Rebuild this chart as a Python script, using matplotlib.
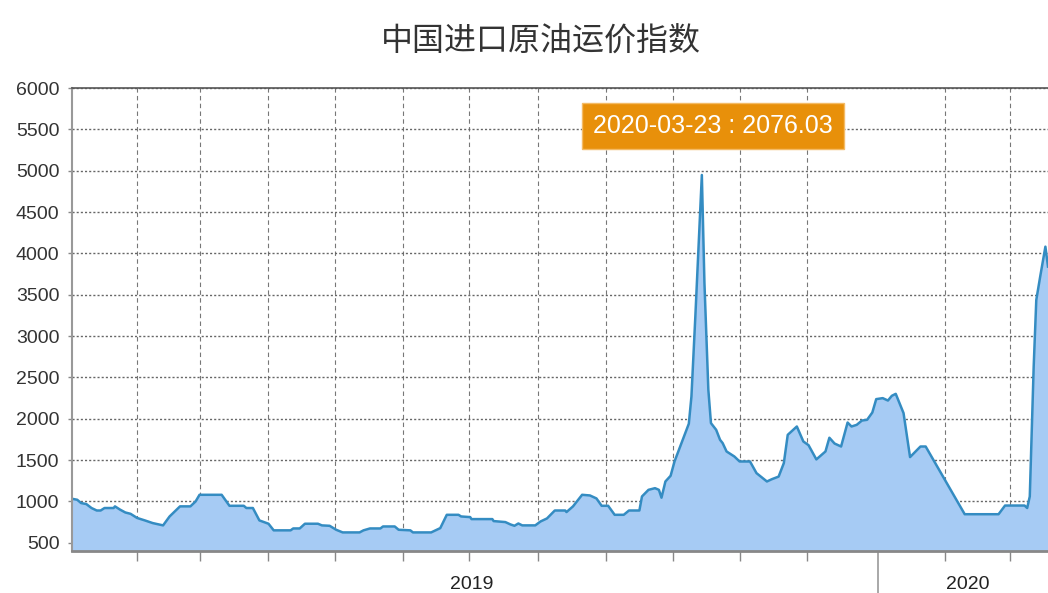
import matplotlib
matplotlib.use('Agg')
import matplotlib.pyplot as plt
from matplotlib.ticker import FixedLocator, NullFormatter

# days counted from the left edge of the chart, index values
days = [0, 4, 7, 11, 15, 19, 22, 25, 32, 33,
        37, 41, 45, 50, 56, 62, 70, 75, 83, 91,
        95, 98, 115, 121, 132, 134, 139, 144, 151, 155,
        168, 170, 175, 179, 189, 192, 198, 203, 208, 221,
        224, 229, 237, 239, 248, 251, 260, 262, 276, 283,
        288, 297, 299, 306, 307, 323, 324, 333, 337, 340,
        343, 346, 356, 360, 365, 371, 379, 380, 385, 392,
        398, 403, 407, 412, 417, 424, 428, 436, 438, 443,
        448, 451, 453, 456, 460, 463, 474, 476, 479, 484,
        486, 489, 491, 495, 498, 500, 503, 509, 513, 521,
        526, 534, 538, 543, 547, 550, 557, 562, 566, 572,
        579, 582, 586, 591, 596, 599, 603, 607, 611, 615,
        618, 623, 627, 630, 633, 639, 644, 652, 656, 686,
        712, 717, 732, 734, 736, 739, 741, 744, 748, 750]
index_values = [1032, 1020, 980, 968, 920, 890, 890, 920, 920, 940,
                900, 866, 850, 800, 770, 738, 710, 818, 940, 940,
                1000, 1080, 1080, 947, 947, 920, 920, 770, 730, 650,
                650, 673, 673, 730, 730, 710, 705, 657, 625, 625,
                650, 673, 673, 697, 697, 657, 650, 625, 625, 677,
                838, 838, 818, 810, 786, 786, 762, 750, 721, 705,
                733, 710, 710, 757, 794, 890, 890, 871, 940, 1080,
                1072, 1036, 947, 947, 838, 838, 890, 890, 1060, 1140,
                1160, 1140, 1045, 1241, 1310, 1483, 1940, 2269, 3236, 4948,
                3639, 2350, 1947, 1866, 1745, 1705, 1604, 1543, 1483, 1483,
                1342, 1241, 1270, 1300, 1463, 1805, 1906, 1725, 1680, 1508,
                1604, 1770, 1700, 1664, 1954, 1906, 1926, 1978, 1987, 2075,
                2237, 2249, 2220, 2277, 2301, 2068, 1536, 1664, 1664, 845,
                845, 950, 950, 920, 1060, 2631, 3437, 3719, 4081, 3840]

grid_days = [50, 98, 151, 202, 254, 305, 358, 410, 462, 513, 565, 619, 671, 721]
year_days = [307, 619, 688]
year_labels = ['2019', '', '2020']
y_ticks = list(range(500, 6001, 500))

title = '中国进口原油运价指数'
tooltip = '2020-03-23 : 2076.03'

narrow = ['Liberation Sans', 'DejaVu Sans']

fig = plt.figure(figsize=(10.48, 5.93), dpi=100)
ax = fig.add_axes([0.0687, 0.0708, 0.9313, 0.7808])

ax.fill_between(days, index_values, 400, color='#a6cbf4', lw=0)
ax.plot(days, index_values, color='#348cc2', lw=1.8)

ax.set_xlim(0, 750)
ax.set_ylim(400, 6000)

# grid
ax.set_yticks(y_ticks)
ax.xaxis.set_minor_locator(FixedLocator(grid_days))
ax.xaxis.set_minor_formatter(NullFormatter())
ax.xaxis.set_major_locator(FixedLocator(year_days))
ax.set_xticklabels(year_labels)
ax.grid(which='major', axis='y', ls=(0, (1.5, 1.5)), color='#666666', lw=1)
ax.grid(which='minor', axis='x', ls=(0, (4, 3)), color='#777777', lw=0.8)
ax.set_axisbelow(True)

ax.spines['right'].set_visible(False)
ax.spines['top'].set_linestyle((0, (2, 1)))
ax.spines['top'].set_color('#555555')
ax.spines['top'].set_linewidth(1.2)
ax.spines['left'].set_color('#999999')
ax.spines['left'].set_linewidth(1.5)
ax.spines['bottom'].set_color('#888888')
ax.spines['bottom'].set_linewidth(2)

ax.tick_params(axis='y', length=3, width=1, color='#888888', pad=6,
               labelsize=14, labelcolor='#333333')
ax.tick_params(axis='x', which='minor', length=7, width=1, color='#888888')
ax.tick_params(axis='x', which='major', length=0, pad=18,
               labelsize=14, labelcolor='#222222')
for lab in ax.get_yticklabels() + ax.get_xticklabels():
    lab.set_family(narrow)

# long tick at the year boundary
ticks = ax.xaxis.get_major_ticks()
ticks[1].tick1line.set_markersize(32)
ticks[1].tick1line.set_markeredgecolor('#999999')
ticks[1].tick1line.set_markeredgewidth(1.2)

ax.text(0.657, 0.918, tooltip, transform=ax.transAxes, ha='center', va='center',
        fontsize=18, color='white', family=narrow,
        bbox=dict(boxstyle='square,pad=0.45', fc='#e8900a', ec='#f4bb66', lw=1))

fig.text(0.516, 0.932, title, ha='center', va='center', fontsize=23,
         color='#333333', family=['Noto Sans CJK SC', 'DejaVu Sans'])

plt.savefig('out.png', dpi=100)
